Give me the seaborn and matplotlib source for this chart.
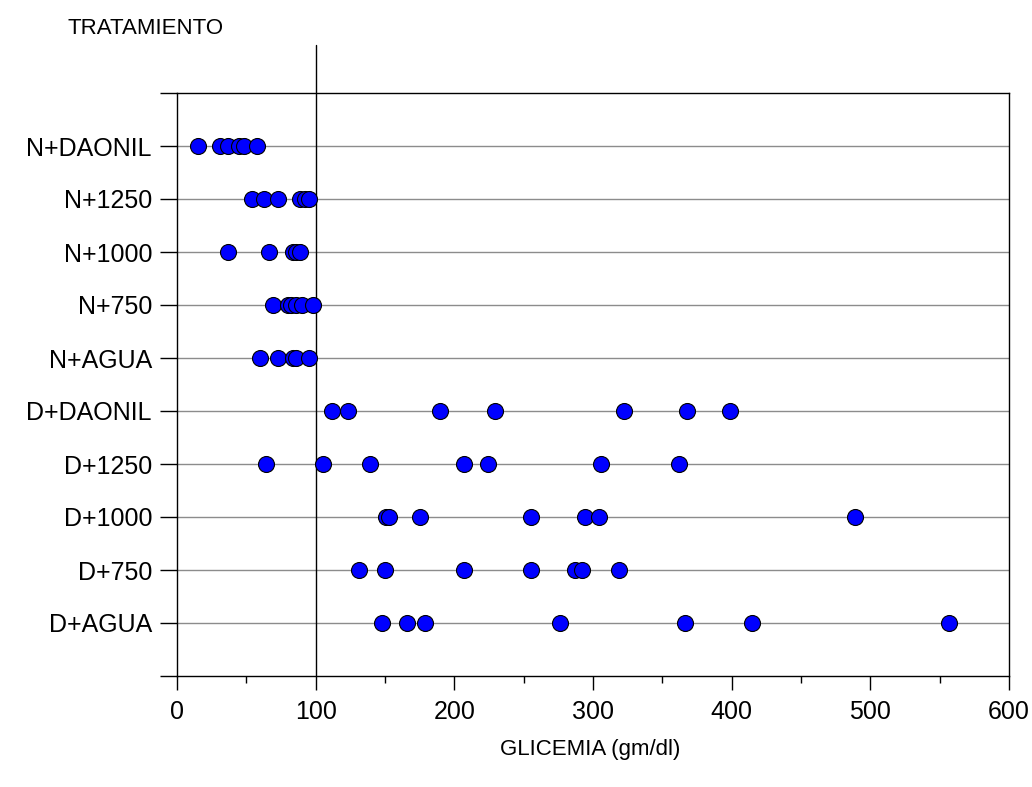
import numpy as np
import pandas as pd
import matplotlib
matplotlib.use("Agg")
import matplotlib.pyplot as plt
import seaborn as sns
from matplotlib.ticker import MultipleLocator

sns.set_style("white")
plt.rcParams['font.family'] = ['Liberation Sans', 'DejaVu Sans']
plt.rcParams['text.color'] = 'black'
plt.rcParams['xtick.color'] = 'black'
plt.rcParams['ytick.color'] = 'black'

categories = ["N+DAONIL", "N+1250", "N+1000", "N+750", "N+AGUA",
              "D+DAONIL", "D+1250", "D+1000", "D+750", "D+AGUA"]
n_daonil = [15, 31, 37, 45, 48, 58]
n_1250 = [54, 63, 73, 89, 92, 95]
n_1000 = [37, 66, 84, 86, 89]
n_750 = [69, 80, 82, 86, 90, 98]
n_agua = [60, 73, 84, 86, 95]
d_daonil = [112, 123, 190, 229, 322, 368, 399]
d_1250 = [64, 105, 139, 207, 224, 306, 362]
d_1000 = [151, 153, 175, 255, 294, 304, 489]
d_750 = [131, 150, 207, 255, 287, 292, 319]
d_agua = [148, 166, 179, 276, 366, 415, 557]
values = [n_daonil, n_1250, n_1000, n_750, n_agua,
          d_daonil, d_1250, d_1000, d_750, d_agua]
x_ticks = [0, 100, 200, 300, 400, 500, 600]

rows = []
for cat, vals in zip(categories, values):
    for v in vals:
        rows.append({"TRATAMIENTO": cat, "GLICEMIA": v})
df = pd.DataFrame(rows)

fig = plt.figure(figsize=(10.32, 7.87), dpi=100)
ax = fig.add_axes([177/1032, 1-676/787, (1009-177)/1032, (676-93)/787])

for i in range(len(categories)):
    ax.axhline(i, color="#8c8c8c", lw=1.0, zorder=1)

sns.stripplot(data=df, x="GLICEMIA", y="TRATAMIENTO", order=categories,
              jitter=False, color="#0000ff", edgecolor="black", linewidth=0.8,
              size=11.5, ax=ax, zorder=3)

ax.set_xlim(0, 600)
ax.set_ylim(len(categories), -1)
ax.set_yticks(range(-1, len(categories) + 1))
ax.set_yticklabels([""] + categories + [""], fontsize=18)
ax.set_xticks(x_ticks)
ax.set_xticklabels([str(t) for t in x_ticks], fontsize=18)
ax.xaxis.set_minor_locator(MultipleLocator(50))
ax.tick_params(axis="y", which="major", direction="out", length=12, width=1,
               color="black", left=True, pad=6)
ax.tick_params(axis="x", which="major", direction="out", length=10, width=1,
               color="black", bottom=True, pad=7)
ax.tick_params(axis="x", which="minor", direction="out", length=5, width=1,
               color="black", bottom=True)
for s in ["left", "bottom", "top", "right"]:
    ax.spines[s].set_visible(True)
    ax.spines[s].set_color("black")
    ax.spines[s].set_linewidth(1)

ax.axvline(100, ymin=0, ymax=(676-45)/(676-93), color="black", lw=1,
           clip_on=False, zorder=2)

ax.set_xlabel("")
ax.set_ylabel("")
fig.text(146/1032, 1-28/787, "TRATAMIENTO", ha="center", va="center", fontsize=16)
fig.text(590/1032, 1-750/787, "GLICEMIA (gm/dl)", ha="center", va="center", fontsize=16)

fig.savefig("out.png", dpi=100)
